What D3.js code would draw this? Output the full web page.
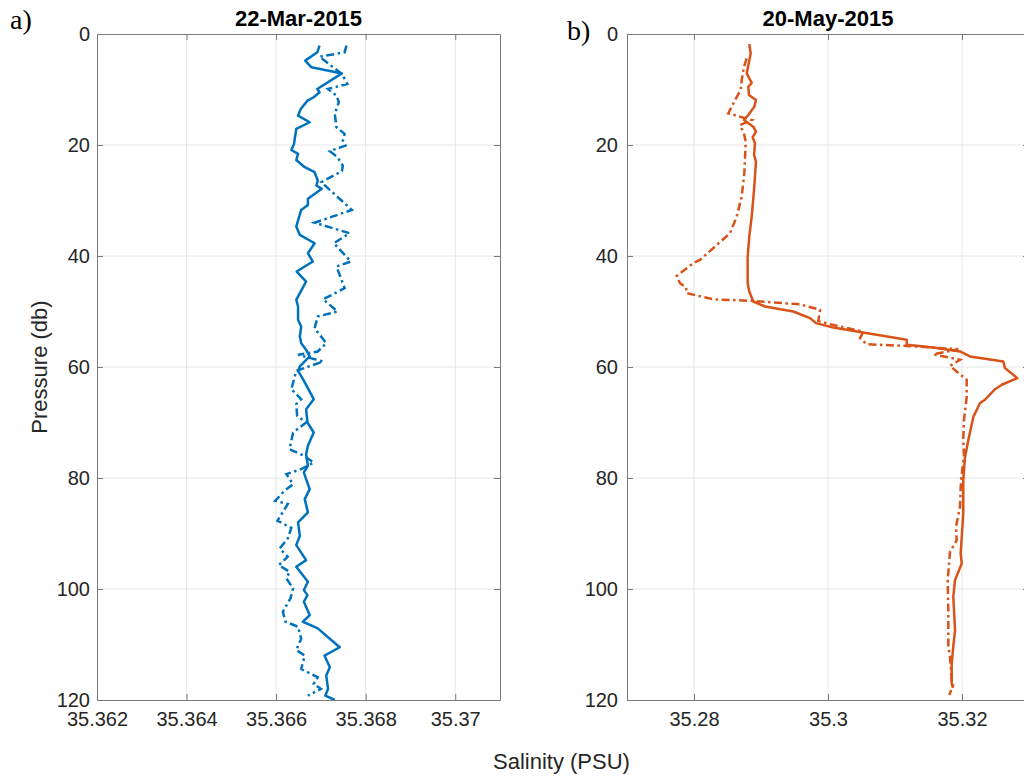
<!DOCTYPE html>
<html><head><meta charset="utf-8">
<script src="https://cdn.jsdelivr.net/npm/d3@7"></script>
<style>body{margin:0;background:#fff}</style>
</head><body><svg id="c" width="1024" height="776"></svg>
<script>
// ---------- DATA ----------
const titleA = "22-Mar-2015";
const titleB = "20-May-2015";
const pressureTicks = [0, 20, 40, 60, 80, 100, 120];
const salinityTicksA = [35.362, 35.364, 35.366, 35.368, 35.37];
const salinityTicksB = [35.28, 35.30, 35.32];
const salinityTickLabelsB = ["35.28", "35.3", "35.32"];
const salinityTickLabelsA = ["35.362", "35.364", "35.366", "35.368", "35.37"];

// [pressure (db), salinity (PSU)]
const marchSolid = [[2.1,35.36697],[3.3,35.36692],[4.8,35.36665],[6.0,35.36679],[7.1,35.36747],[9.9,35.36692],[10.5,35.36697],[11.4,35.36684],[12.0,35.36670],[13.5,35.36655],[14.7,35.36649],[15.9,35.36675],[17.1,35.36645],[19.8,35.36640],[20.9,35.36634],[21.6,35.36649],[22.7,35.36645],[24.0,35.36664],[24.9,35.36686],[26.4,35.36693],[27.3,35.36690],[27.9,35.36702],[29.7,35.36671],[30.8,35.36671],[31.7,35.36656],[34.7,35.36645],[36.2,35.36653],[37.7,35.36686],[39.5,35.36671],[41.0,35.36682],[42.8,35.36646],[44.6,35.36667],[47.9,35.36645],[49.1,35.36649],[51.5,35.36649],[52.7,35.36656],[54.5,35.36653],[55.7,35.36656],[56.9,35.36667],[58.1,35.36675],[59.9,35.36653],[60.7,35.36649],[62.2,35.36660],[65.8,35.36684],[67.6,35.36667],[70.0,35.36670],[71.8,35.36684],[74.2,35.36671],[75.7,35.36667],[77.8,35.36671],[79.0,35.36662],[80.2,35.36667],[82.0,35.36675],[83.8,35.36664],[86.2,35.36671],[88.0,35.36649],[90.4,35.36653],[92.1,35.36645],[94.8,35.36667],[96.0,35.36645],[98.7,35.36671],[100.2,35.36662],[101.1,35.36670],[102.3,35.36662],[104.7,35.36675],[105.9,35.36660],[107.1,35.36693],[110.5,35.36742],[112.0,35.36708],[114.1,35.36720],[115.6,35.36712],[118.0,35.36716],[119.2,35.36710],[120.0,35.36731]];
const marchDashDot = [[2.1,35.36757],[3.3,35.36753],[4.1,35.36697],[7.2,35.36747],[9.0,35.36759],[9.9,35.36716],[11.1,35.36735],[12.3,35.36740],[14.4,35.36731],[16.8,35.36735],[18.0,35.36753],[19.2,35.36749],[20.1,35.36755],[21.1,35.36720],[22.2,35.36737],[23.7,35.36749],[24.7,35.36747],[26.7,35.36701],[30.0,35.36746],[31.7,35.36769],[34.0,35.36686],[35.9,35.36764],[37.7,35.36729],[41.0,35.36767],[41.9,35.36735],[45.8,35.36753],[47.8,35.36705],[50.0,35.36737],[50.9,35.36693],[53.0,35.36686],[55.7,35.36712],[57.2,35.36693],[57.8,35.36649],[59.0,35.36705],[60.7,35.36645],[64.0,35.36634],[65.8,35.36656],[66.7,35.36645],[68.8,35.36647],[70.0,35.36667],[71.8,35.36638],[74.8,35.36630],[76.0,35.36662],[77.2,35.36684],[78.4,35.36656],[79.3,35.36623],[81.1,35.36638],[82.3,35.36619],[84.1,35.36598],[84.7,35.36626],[87.7,35.36603],[89.0,35.36634],[90.9,35.36626],[92.7,35.36608],[94.2,35.36626],[95.7,35.36606],[96.9,35.36630],[98.1,35.36623],[99.9,35.36638],[101.7,35.36632],[104.1,35.36615],[105.9,35.36621],[106.8,35.36649],[109.0,35.36656],[111.0,35.36645],[112.0,35.36664],[114.4,35.36656],[115.9,35.36693],[117.1,35.36684],[118.0,35.36700],[119.2,35.36671]];
const maySolid = [[1.8,35.28825],[3.5,35.28846],[7.1,35.28787],[8.8,35.28861],[9.5,35.28810],[11.0,35.28821],[11.9,35.28925],[13.1,35.28900],[14.6,35.28810],[15.5,35.28746],[16.7,35.28885],[17.6,35.28925],[18.6,35.28876],[19.7,35.28910],[21.8,35.28896],[23.0,35.28925],[28.1,35.28896],[32.9,35.28861],[36.5,35.28825],[40.1,35.28801],[44.9,35.28801],[46.4,35.28825],[48.2,35.28885],[49.1,35.29060],[50.0,35.29482],[51.2,35.29731],[52.1,35.29821],[52.9,35.30079],[53.7,35.30478],[55.1,35.31175],[56.0,35.31175],[56.5,35.31572],[57.2,35.31970],[58.1,35.32119],[59.0,35.32616],[60.2,35.32642],[62.0,35.32825],[63.2,35.32593],[64.0,35.32493],[65.9,35.32343],[66.5,35.32269],[69.0,35.32169],[73.2,35.32094],[76.2,35.32045],[80.4,35.32019],[86.4,35.32019],[93.6,35.31980],[95.4,35.31996],[98.4,35.31896],[101.4,35.31870],[107.4,35.31896],[110.4,35.31870],[113.4,35.31846],[117.0,35.31846],[117.8,35.31866]];
const mayDashDot = [[4.4,35.28787],[5.9,35.28746],[8.3,35.28712],[10.1,35.28697],[11.9,35.28612],[14.3,35.28512],[15.5,35.28861],[16.4,35.28687],[17.9,35.28746],[19.4,35.28772],[25.1,35.28751],[29.3,35.28712],[32.9,35.28637],[35.9,35.28537],[38.3,35.28313],[40.7,35.28090],[41.3,35.27990],[43.6,35.27742],[44.9,35.27791],[45.6,35.27881],[46.7,35.27891],[47.8,35.28288],[48.1,35.28885],[48.7,35.29582],[49.7,35.29881],[51.7,35.29855],[52.3,35.30030],[53.6,35.30527],[54.8,35.30478],[55.9,35.30578],[56.2,35.31175],[56.8,35.31945],[57.7,35.31572],[58.7,35.31970],[59.8,35.31821],[62.3,35.32070],[65.4,35.32070],[69.5,35.32030],[73.2,35.32019],[76.0,35.32030],[80.4,35.31985],[85.2,35.31970],[88.8,35.31910],[91.2,35.31921],[93.3,35.31821],[98.4,35.31787],[104.4,35.31796],[110.4,35.31796],[112.2,35.31821],[116.4,35.31846],[117.3,35.31870],[119.1,35.31810]];

// ---------- LAYOUT ----------
const svg = d3.select("#c");
svg.append("rect").attr("width",1024).attr("height",776).attr("fill","#fff");
const yTop = 34, yBot = 700;
const y = d3.scaleLinear().domain([0,120]).range([yTop,yBot]);
const xA = d3.scaleLinear().domain([35.362,35.371]).range([97,500]);
const xB = d3.scaleLinear().domain([35.27,35.33]).range([627,1029]);
const blue = "#0072BD", orange = "#D95319";
const gridCol = "#e6e6e6", axisCol = "#7a7a7a", textCol = "#262626";
const tickFont = "Liberation Sans, Arial, Helvetica, sans-serif";

function panel(id, x, xt, xtl, title, series, color, labelPad) {
  const [x0,x1] = x.range();
  const g = svg.append("g");
  g.append("clipPath").attr("id","clip"+id).append("rect")
    .attr("x",x0).attr("y",yTop).attr("width",x1-x0).attr("height",yBot-yTop);
  g.selectAll(".gx").data(xt.filter(v=>x(v)>x0+1)).enter().append("line")
    .attr("x1",d=>x(d)).attr("x2",d=>x(d)).attr("y1",yTop).attr("y2",yBot)
    .attr("stroke",gridCol).attr("stroke-width",1);
  g.selectAll(".gy").data(pressureTicks.slice(1,-1)).enter().append("line")
    .attr("x1",x0).attr("x2",x1).attr("y1",d=>y(d)).attr("y2",d=>y(d))
    .attr("stroke",gridCol).attr("stroke-width",1);
  const line = d3.line().x(d=>x(d[1])).y(d=>y(d[0]));
  const lg = g.append("g").attr("clip-path","url(#clip"+id+")");
  lg.append("path").datum(series[0]).attr("d",line).attr("fill","none")
    .attr("stroke",color).attr("stroke-width",2.5).attr("stroke-linejoin","round");
  lg.append("path").datum(series[1]).attr("d",line).attr("fill","none")
    .attr("stroke",color).attr("stroke-width",2.5).attr("stroke-dasharray","8,3.5,2.5,3.5");
  const fmtX = d=>xtl[xt.indexOf(d)];
  const axB = g.append("g").attr("transform",`translate(0,${yBot})`)
    .call(d3.axisBottom(x).tickValues(xt).tickFormat(fmtX).tickSizeInner(-6).tickSizeOuter(0).tickPadding(12));
  const axT = g.append("g").attr("transform",`translate(0,${yTop})`)
    .call(d3.axisTop(x).tickValues(xt).tickFormat("").tickSizeInner(-6).tickSizeOuter(0));
  const axL = g.append("g").attr("transform",`translate(${x0},0)`)
    .call(d3.axisLeft(y).tickValues(pressureTicks).tickSizeInner(-6).tickSizeOuter(0).tickPadding(labelPad));
  const axR = g.append("g").attr("transform",`translate(${x1},0)`)
    .call(d3.axisRight(y).tickValues(pressureTicks).tickFormat("").tickSizeInner(-6).tickSizeOuter(0));
  [axB,axT,axL,axR].forEach(a=>{
    a.select(".domain").attr("stroke",axisCol).attr("stroke-width",1);
    a.selectAll(".tick line").attr("stroke",axisCol);
    a.selectAll("text").attr("fill",textCol).style("font-family",tickFont).style("font-size","20px");
  });
  g.append("text").attr("x",(x0+x1)/2).attr("y",26).attr("text-anchor","middle")
    .style("font-family",tickFont).style("font-size","22px").style("font-weight","bold")
    .attr("fill","#000").text(title);
}

panel("a", xA, salinityTicksA, salinityTickLabelsA, titleA, [marchSolid, marchDashDot], blue, 7);
panel("b", xB, salinityTicksB, salinityTickLabelsB, titleB, [maySolid, mayDashDot], orange, 9);

svg.append("text").attr("transform","translate(47,367) rotate(-90)").attr("text-anchor","middle")
  .style("font-family",tickFont).style("font-size","22px").attr("fill",textCol).text("Pressure (db)");
svg.append("text").attr("x",493).attr("y",769).attr("text-anchor","start")
  .style("font-family",tickFont).style("font-size","22px").attr("fill",textCol).text("Salinity (PSU)");
svg.append("text").attr("x",10).attr("y",29)
  .style("font-family","Liberation Serif, Times New Roman, serif").style("font-size","28px").attr("fill","#000").text("a)");
svg.append("text").attr("x",567).attr("y",40)
  .style("font-family","Liberation Serif, Times New Roman, serif").style("font-size","28px").attr("fill","#000").text("b)");
</script></body></html>
